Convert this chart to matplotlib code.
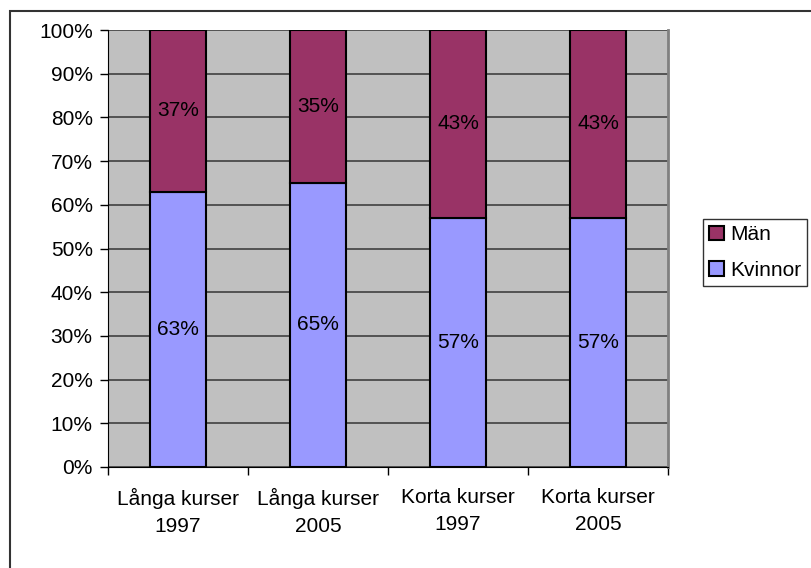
import matplotlib.pyplot as plt
import matplotlib.patches as patches
import numpy as np

plt.rcParams['font.family'] = ['Liberation Sans', 'DejaVu Sans']

kategorier = ['Långa kurser\n1997', 'Långa kurser\n2005', 'Korta kurser\n1997', 'Korta kurser\n2005']
kvinnor = [63, 65, 57, 57]
man = [37, 35, 43, 43]

fig = plt.figure(figsize=(8.11, 5.68), dpi=100)
ax = fig.add_axes([108 / 811, 1 - 467 / 568, 560 / 811, 437 / 568])
ax.set_facecolor('#C0C0C0')

x = np.arange(len(kategorier))
b1 = ax.bar(x, kvinnor, width=0.4, color='#9999FF', edgecolor='black', linewidth=1.5,
            label='Kvinnor', zorder=3)
b2 = ax.bar(x, man, width=0.4, bottom=kvinnor, color='#993366', edgecolor='black',
            linewidth=1.5, label='Män', zorder=3)

for i in range(len(x)):
    ax.text(x[i], kvinnor[i] / 2, f'{kvinnor[i]}%', ha='center', va='center',
            fontsize=15, zorder=4)
    ax.text(x[i], kvinnor[i] + man[i] / 2, f'{man[i]}%', ha='center', va='center',
            fontsize=15, zorder=4)

ax.set_xlim(-0.5, 3.5)
ax.set_ylim(0, 100)
ax.set_yticks(np.arange(0, 101, 10))
ax.set_yticklabels([f'{v}%' for v in range(0, 101, 10)], fontsize=15)
ax.yaxis.grid(True, color='#404040', linewidth=1.2, zorder=1)
ax.set_axisbelow(True)

ax.set_xticks(x)
ax.set_xticklabels(kategorier, fontsize=15, linespacing=1.55)
ax.tick_params(axis='x', which='major', length=0, pad=15)
ax.set_xticks(np.arange(-0.5, 4, 1), minor=True)
ax.tick_params(axis='x', which='minor', length=6, width=1, direction='out')
ax.tick_params(axis='y', length=6, width=1, direction='out', pad=5)

ax.spines['left'].set_color('black')
ax.spines['bottom'].set_color('black')
ax.spines['top'].set_visible(False)
ax.spines['right'].set_color('#808080')
ax.spines['right'].set_linewidth(2)

handles = [b2, b1]
leg = ax.legend(handles, ['Män', 'Kvinnor'], loc='upper left',
                bbox_to_anchor=(703 / 811, 1 - 219 / 568), bbox_transform=fig.transFigure,
                fontsize=15, frameon=True, fancybox=False, edgecolor='black',
                handlelength=0.7, handleheight=0.7, handletextpad=0.3,
                labelspacing=0.8, borderpad=0.3, borderaxespad=0)
leg.get_frame().set_linewidth(1)

# ram runt hela diagrammet
ram = patches.Rectangle((10 / 811, -0.1), 1.2, 1.1 - 11 / 568,
                        transform=fig.transFigure, fill=False,
                        edgecolor='#333333', linewidth=1.5, clip_on=False)
fig.patches.append(ram)

fig.savefig('out.png', dpi=100)
